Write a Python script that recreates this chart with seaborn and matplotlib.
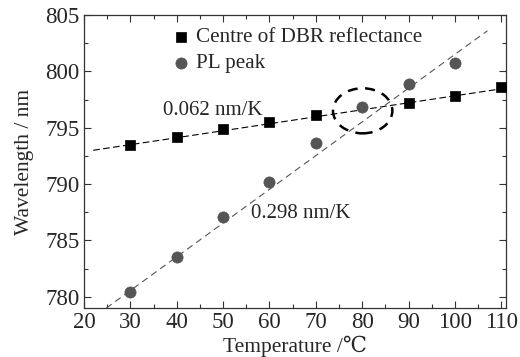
import matplotlib
matplotlib.use("Agg")
import matplotlib.pyplot as plt
import seaborn as sns
import pandas as pd
from matplotlib.patches import Ellipse
from matplotlib.ticker import MultipleLocator

# data
temp_dbr = [30, 40, 50, 60, 70, 90, 100, 110]
wl_dbr = [793.5, 794.2, 794.85, 795.55, 796.15, 797.2, 797.8, 798.6]
temp_pl = [30, 40, 50, 60, 70, 80, 90, 100]
wl_pl = [780.45, 783.55, 787.05, 790.2, 793.65, 796.8, 798.85, 800.7]
fit_dbr_x = [22, 110]
fit_dbr_y = [793.0, 798.45]
fit_pl_x = [24.8, 107]
fit_pl_y = [779.0, 803.6]
label_dbr = "Centre of DBR reflectance"
label_pl = "PL peak"
slope_dbr = "0.062 nm/K"
slope_pl = "0.298 nm/K"

sns.set_theme(style="ticks")
plt.rcParams['font.family'] = ['Liberation Serif', 'DejaVu Serif', 'DejaVu Sans']

fig = plt.figure(figsize=(5.2, 3.57), dpi=100)
ax = fig.add_axes([0.1615, 0.137, 0.8115, 0.821])

sns.lineplot(x=fit_dbr_x, y=fit_dbr_y, ax=ax, color="black", lw=0.8,
             linestyle=(0, (6, 3)), legend=False)
sns.lineplot(x=fit_pl_x, y=fit_pl_y, ax=ax, color="#555555", lw=0.8,
             linestyle=(0, (6, 4)), legend=False)

df_dbr = pd.DataFrame({"T": temp_dbr, "W": wl_dbr})
df_pl = pd.DataFrame({"T": temp_pl, "W": wl_pl})
sns.scatterplot(data=df_dbr, x="T", y="W", ax=ax, marker="s", s=55,
                color="black", edgecolor="black", linewidth=0.5,
                label=label_dbr, zorder=3)
sns.scatterplot(data=df_pl, x="T", y="W", ax=ax, marker="o", s=65,
                color="#555555", edgecolor="#555555", linewidth=0.5,
                label=label_pl, zorder=3)

ax.add_patch(Ellipse((80.1, 796.5), 12.8, 4.0, fill=False, edgecolor="black",
                     lw=1.8, linestyle=(0, (4, 3)), zorder=4))

ax.text(37.0, 796.5, slope_dbr, fontsize=15, ha="left", va="center")
ax.text(56.0, 787.35, slope_pl, fontsize=15, ha="left", va="center")

ax.set_xlim(20, 111)
ax.set_ylim(779, 805)
ax.xaxis.set_major_locator(MultipleLocator(10))
ax.xaxis.set_minor_locator(MultipleLocator(5))
ax.yaxis.set_major_locator(MultipleLocator(5))
ax.yaxis.set_minor_locator(MultipleLocator(2.5))
ax.tick_params(which="both", direction="in", top=True, right=True,
               labelsize=16.5, color="#333333")
ax.tick_params(which="major", length=5, width=0.8, pad=3)
ax.tick_params(which="minor", length=3, width=0.8)
for s in ax.spines.values():
    s.set_color("#333333")
    s.set_linewidth(0.9)

ax.set_xlabel("Temperature /\u2103", fontsize=15.5, labelpad=2)
ax.set_ylabel("Wavelength / nm", fontsize=15.5, labelpad=8)

leg = ax.legend(loc="upper left", bbox_to_anchor=(0.175, 1.0), frameon=False,
                fontsize=15.2, handletextpad=0.2, borderaxespad=0.2,
                labelspacing=0.28, handlelength=1.0)

fig.savefig("out.png", dpi=100)
